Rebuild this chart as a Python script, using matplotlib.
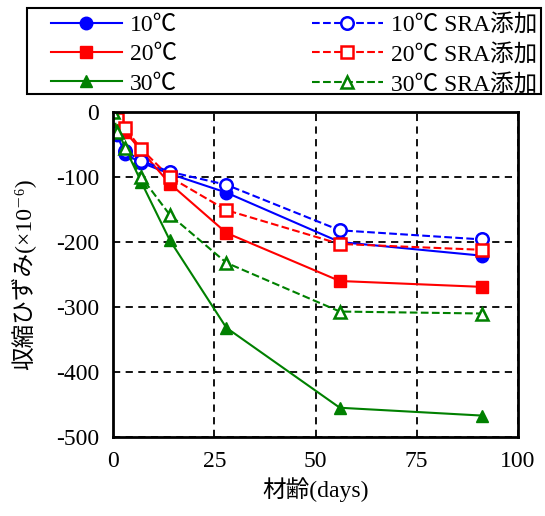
import matplotlib
matplotlib.use("Agg")
import matplotlib.pyplot as plt
from matplotlib.patches import Rectangle

plt.rcParams['font.family'] = ['Liberation Serif', 'Noto Sans CJK JP', 'DejaVu Serif']
plt.rcParams['axes.unicode_minus'] = False

# material age (days)
days = [0, 1, 3, 7, 14, 28, 56, 91]

# shrinkage strain (x10^-6)
s10 = [0, -35, -65, -78, -95, -124, -200, -221]
s20 = [0, -15, -30, -60, -110, -186, -260, -269]
s30 = [0, -25, -55, -108, -197, -332, -455, -467]
s10_sra = [0, -30, -60, -75, -92, -112, -182, -196]
s20_sra = [0, -10, -25, -57, -100, -151, -203, -212]
s30_sra = [0, -30, -55, -100, -158, -232, -307, -310]

labels = ['10℃', '20℃', '30℃', '10℃ SRA添加', '20℃ SRA添加', '30℃ SRA添加']
xticks = [0, 25, 50, 75, 100]
yticks = [0, -100, -200, -300, -400, -500]

fig = plt.figure(figsize=(5.45, 5.16), dpi=100)
ax = fig.add_axes([113/545, 1-437/516, 405/545, 325/516])

ms = 9
lw = 1.5
h = []
h += ax.plot(days, s10, '-o', color='blue', ms=ms, lw=lw, label=labels[0])
h += ax.plot(days, s20, '-s', color='red', ms=ms, lw=lw, label=labels[1])
h += ax.plot(days, s30, '-^', color='green', ms=ms, lw=lw, label=labels[2])
h += ax.plot(days, s10_sra, '--o', color='blue', ms=ms, lw=lw, mfc='white', mew=1.8, label=labels[3])
h += ax.plot(days, s20_sra, '--s', color='red', ms=ms, lw=lw, mfc='white', mew=1.8, label=labels[4])
h += ax.plot(days, s30_sra, '--^', color='green', ms=ms, lw=lw, mfc='white', mew=1.8, label=labels[5])

ax.set_xlim(0, 100)
ax.set_ylim(-500, 0)
ax.set_xticks(xticks)
ax.set_yticks(yticks)
ax.tick_params(labelsize=17, length=0, pad=10)
ax.grid(True, color='black', linestyle=(0, (4, 3)), linewidth=1.3)
for sp in ax.spines.values():
    sp.set_linewidth(2)
    sp.set_color('black')
ax.set_axisbelow(True)

ax.set_xlabel('材齢(days)', fontsize=17, labelpad=4)
ax.set_ylabel('収縮ひずみ(×10⁻⁶)', fontsize=17, labelpad=14)

# legend box drawn separately so the inner padding can match
fig.patches.append(Rectangle((27/545, 1-94/516), 514/545, 86/516, transform=fig.transFigure,
                             fill=False, edgecolor='black', linewidth=1.5))
fig.legend(handles=h, loc='upper left', ncol=2,
           bbox_to_anchor=(51/545, 1-14/516),
           fontsize=17, frameon=False,
           handlelength=3.0, handletextpad=0.35, labelspacing=0.33,
           columnspacing=5.7, borderaxespad=0, borderpad=0)

fig.savefig('out.png', dpi=100)
